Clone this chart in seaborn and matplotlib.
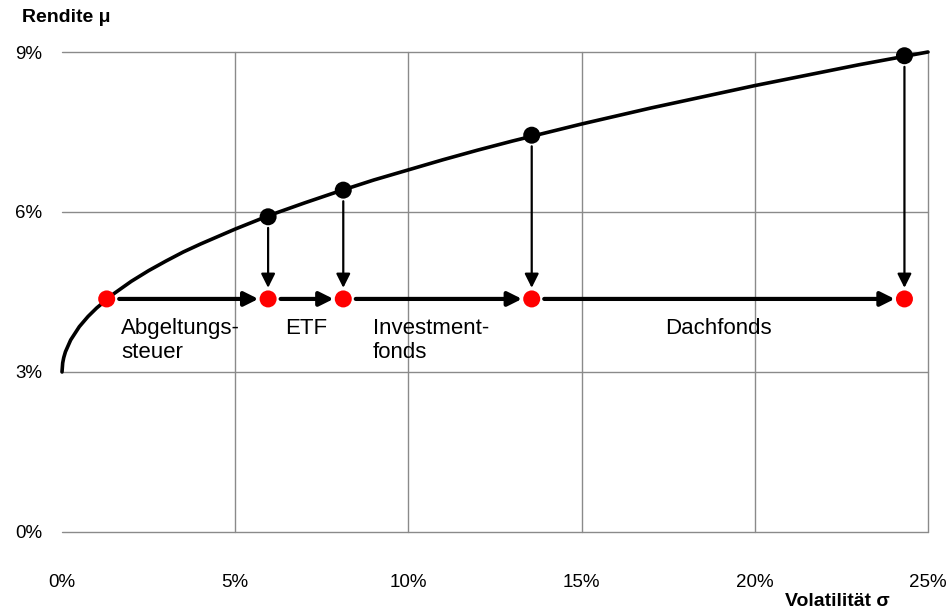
import matplotlib
matplotlib.use("Agg")
import matplotlib.pyplot as plt
import seaborn as sns
import pandas as pd

# ---- data ----
curve_sigma = [0, 0.02, 0.05, 0.1, 0.25, 0.5, 0.75, 1, 1.5, 2, 2.5, 3, 3.5,
               4, 5, 6, 7, 8, 9, 10, 11, 12, 13, 14, 15, 16, 17, 18, 19, 20,
               21, 22, 23, 24, 25]
curve_mu = [3.00, 3.17, 3.27, 3.38, 3.60, 3.85, 4.04, 4.20, 4.47, 4.70, 4.90,
            5.08, 5.25, 5.40, 5.68, 5.94, 6.17, 6.39, 6.60, 6.79, 6.98, 7.16,
            7.33, 7.49, 7.65, 7.80, 7.95, 8.09, 8.23, 8.37, 8.50, 8.63, 8.76,
            8.88, 9.00]
point_sigma = [1.29, 5.95, 8.12, 13.56, 24.32]       # volatility of each step
gross_mu = [None, 5.91, 6.41, 7.44, 8.93]            # return before costs
net_mu = [4.37, 4.37, 4.37, 4.37, 4.37]              # return after costs
step_labels = ["Abgeltungs-\nsteuer", "ETF", "Investment-\nfonds", "Dachfonds"]
x_ticks = [0, 5, 10, 15, 20, 25]
y_ticks = [0, 3, 6, 9]

# ---- layout ----
label_x = [1.70, 6.44, 8.98, None]   # None -> centred on arrow
label_y = 4.02

sns.set_theme(style="white")
plt.rcParams["font.family"] = ["Liberation Sans", "DejaVu Sans"]

fig = plt.figure(figsize=(9.52, 6.10), dpi=100)
ax = fig.add_axes([62 / 952, 1 - 532 / 610, 866 / 952, 480 / 610])

curve = pd.DataFrame({"sigma": curve_sigma, "mu": curve_mu})
sns.lineplot(data=curve, x="sigma", y="mu", ax=ax, color="black", lw=2.6,
             sort=False, zorder=3, clip_on=False)

# horizontal arrows between red points
for i in range(len(point_sigma) - 1):
    ax.annotate("", xy=(point_sigma[i + 1], net_mu[i + 1]),
                xytext=(point_sigma[i], net_mu[i]),
                arrowprops=dict(arrowstyle="-|>,head_length=0.6,head_width=0.3",
                                color="black", lw=3, mutation_scale=14,
                                shrinkA=9, shrinkB=7),
                zorder=4, annotation_clip=False)

# vertical arrows from black to red
for i in range(1, len(point_sigma)):
    ax.annotate("", xy=(point_sigma[i], net_mu[i]),
                xytext=(point_sigma[i], gross_mu[i]),
                arrowprops=dict(arrowstyle="-|>,head_length=0.6,head_width=0.3",
                                color="black", lw=1.6, mutation_scale=14,
                                shrinkA=8, shrinkB=8),
                zorder=4, annotation_clip=False)

black_df = pd.DataFrame({"sigma": point_sigma[1:], "mu": gross_mu[1:]})
red_df = pd.DataFrame({"sigma": point_sigma, "mu": net_mu})
sns.scatterplot(data=black_df, x="sigma", y="mu", ax=ax, color="black", s=150,
                edgecolor="none", zorder=5, clip_on=False)
sns.scatterplot(data=red_df, x="sigma", y="mu", ax=ax, color="#ff0000", s=150,
                edgecolor="none", zorder=5, clip_on=False)

# labels for the cost steps
for i, lab in enumerate(step_labels):
    if label_x[i] is None:
        xm = (point_sigma[i] + point_sigma[i + 1]) / 2
        ax.text(xm, label_y, lab, ha="center", va="top", fontsize=16,
                color="black", linespacing=1.2)
    else:
        ax.text(label_x[i], label_y, lab, ha="left", va="top", fontsize=16,
                color="black", linespacing=1.2)

ax.set_xlim(0, 25)
ax.set_ylim(0, 9)
ax.set_xticks(x_ticks)
ax.set_yticks(y_ticks)
ax.set_xticklabels([f"{t}%" for t in x_ticks])
ax.set_yticklabels([f"{t}%" for t in y_ticks])
ax.tick_params(axis="x", length=0, pad=30, labelsize=13.5, colors="black")
ax.tick_params(axis="y", length=0, pad=14, labelsize=13.5, colors="black")
ax.set_xlabel("")
ax.set_ylabel("")
for s in ax.spines.values():
    s.set_visible(False)
ax.grid(True, color="#8a8a8a", lw=1)
for gl in ax.xaxis.get_gridlines() + ax.yaxis.get_gridlines():
    gl.set_clip_on(False)
ax.xaxis.get_gridlines()[0].set_visible(False)
ax.set_axisbelow(True)

fig.text(22 / 952, 1 - 17 / 610, "Rendite μ", ha="left", va="center",
         fontsize=14, fontweight="bold", color="black")
fig.text(785 / 952, 1 - 601 / 610, "Volatilität σ", ha="left", va="center",
         fontsize=14, fontweight="bold", color="black")

fig.savefig("out.png", dpi=100)
